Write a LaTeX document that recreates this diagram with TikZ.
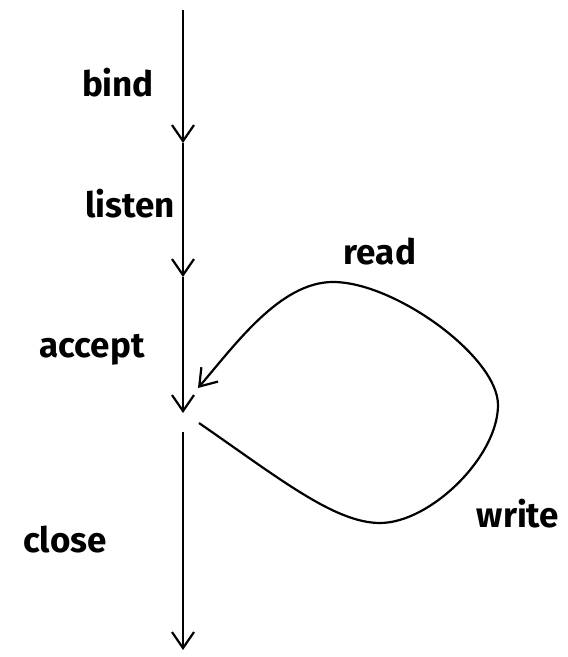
\documentclass[tikz,border=0pt]{standalone}
\usepackage{fontspec}
\setmainfont{Fira Sans}
\usetikzlibrary{arrows.meta}

\begin{document}
\begin{tikzpicture}[x=1pt,y=1pt,line width=2.2pt,
    call/.style={-{Straight Barb[length=16pt,width=22pt]}},
    lbl/.style={anchor=base,inner sep=0pt,font=\fontsize{35}{38}\selectfont\bfseries}]
    \useasboundingbox (0,0) rectangle (568,657);
    %mark points on the time line
        \coordinate (T0) at (183,647);
        \coordinate (T1) at (183,514);
        \coordinate (T2) at (183,380);
        \coordinate (T3) at (183,244);
        \coordinate (T4) at (183,225);
        \coordinate (T5) at (183,7);
        \coordinate (LoopOut) at (199,234);
        \coordinate (LoopIn) at (198,269);

    %draw the calls
        \draw[call] (T0) -- (T1);
        \draw[call] (T1) -- (T2);
        \draw[call] (T2) -- (T3);
        \draw[call] (T4) -- (T5);

    %draw the read/write loop
        \draw[call] (LoopOut) .. controls (280,178) and (335,134) .. (380,134)
            .. controls (430,134) and (498,200) .. (498,252)
            .. controls (498,300) and (395,375) .. (333,375)
            .. controls (280,375) and (235,312) .. (LoopIn);

    %labels
        \node[lbl] (bind) at (118,560) {bind};
        \node[lbl] (listen) at (130,439) {listen};
        \node[lbl] (accept) at (92,299) {accept};
        \node[lbl] (read) at (380,392) {read};
        \node[lbl] (write) at (518,129) {write};
        \node[lbl] (close) at (65,104) {close};
\end{tikzpicture}
\end{document}
